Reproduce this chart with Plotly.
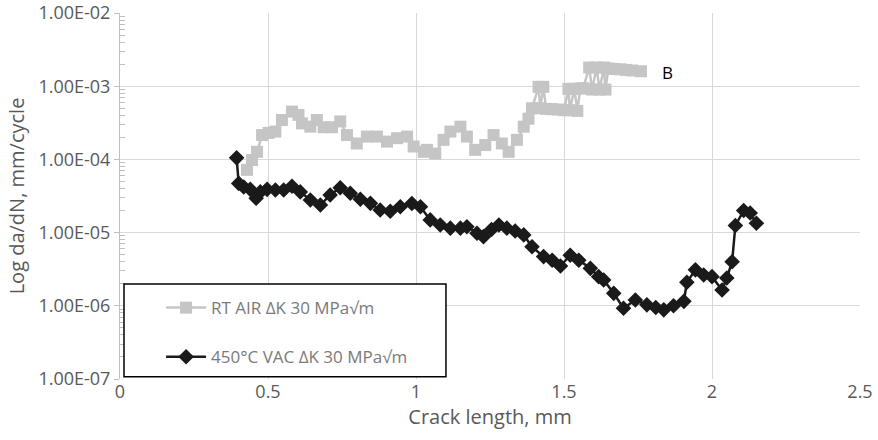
import plotly.graph_objects as go

# RT AIR series (crack length mm, da/dN mm/cycle)
air_x = [0.429, 0.446, 0.463, 0.48, 0.502, 0.525, 0.547, 0.581, 0.603, 0.615, 0.643, 0.665,
         0.688, 0.716, 0.744, 0.767, 0.80, 0.834, 0.868, 0.902, 0.936, 0.970, 0.992, 1.026,
         1.037, 1.065, 1.093, 1.116, 1.15, 1.172, 1.20, 1.234, 1.262, 1.29, 1.313, 1.341,
         1.364, 1.38, 1.392, 1.414, 1.42, 1.43, 1.44, 1.46, 1.48, 1.50, 1.515, 1.52, 1.535,
         1.545, 1.555, 1.565, 1.585, 1.595, 1.61, 1.62, 1.635, 1.64, 1.65, 1.67, 1.69, 1.71,
         1.73, 1.76]
air_y = [7.2e-5, 9.8e-5, 1.27e-4, 2.15e-4, 2.3e-4, 2.4e-4, 3.45e-4, 4.5e-4, 4.05e-4, 3.1e-4,
         2.8e-4, 3.45e-4, 2.75e-4, 2.75e-4, 3.3e-4, 2.15e-4, 1.65e-4, 2.05e-4, 2.05e-4, 1.75e-4,
         1.95e-4, 2.05e-4, 1.5e-4, 1.27e-4, 1.35e-4, 1.2e-4, 1.85e-4, 2.4e-4, 2.8e-4, 2.05e-4,
         1.35e-4, 1.57e-4, 2.15e-4, 1.65e-4, 1.27e-4, 1.85e-4, 2.8e-4, 3.6e-4, 5.0e-4, 9.8e-4,
         5.0e-4, 9.8e-4, 4.9e-4, 4.85e-4, 4.8e-4, 4.7e-4, 9.2e-4, 4.7e-4, 9.2e-4, 4.6e-4,
         9.3e-4, 9.4e-4, 1.8e-3, 9.0e-4, 1.8e-3, 9.0e-4, 1.8e-3, 9.0e-4, 1.75e-3, 1.72e-3,
         1.7e-3, 1.67e-3, 1.64e-3, 1.6e-3]

# 450 C VAC series
vac_x = [0.394, 0.401, 0.418, 0.44, 0.46, 0.474, 0.497, 0.525, 0.553, 0.581, 0.609, 0.643,
         0.677, 0.71, 0.744, 0.778, 0.812, 0.846, 0.879, 0.913, 0.947, 0.986, 1.015, 1.048,
         1.082, 1.116, 1.15, 1.172, 1.206, 1.228, 1.255, 1.28, 1.307, 1.335, 1.364, 1.392,
         1.431, 1.46, 1.488, 1.521, 1.55, 1.589, 1.617, 1.634, 1.668, 1.701, 1.741, 1.78,
         1.81, 1.837, 1.87, 1.905, 1.915, 1.944, 1.972, 2.0, 2.034, 2.05, 2.068, 2.079, 2.107,
         2.129, 2.15]
vac_y = [1.05e-4, 4.7e-5, 4.2e-5, 3.9e-5, 2.94e-5, 3.6e-5, 3.9e-5, 3.82e-5, 3.82e-5, 4.3e-5,
         3.6e-5, 2.79e-5, 2.38e-5, 3.27e-5, 4.1e-5, 3.44e-5, 2.85e-5, 2.51e-5, 2.04e-5, 1.96e-5,
         2.26e-5, 2.5e-5, 2.26e-5, 1.49e-5, 1.27e-5, 1.15e-5, 1.15e-5, 1.2e-5, 9.8e-6, 8.8e-6,
         1.1e-5, 1.27e-5, 1.15e-5, 1.05e-5, 9.3e-6, 6.4e-6, 4.7e-6, 4.2e-6, 3.5e-6, 4.9e-6,
         4.2e-6, 3.25e-6, 2.5e-6, 2.25e-6, 1.48e-6, 9.25e-7, 1.2e-6, 1.03e-6, 9.5e-7, 8.8e-7,
         1.0e-6, 1.15e-6, 2.1e-6, 3.1e-6, 2.64e-6, 2.5e-6, 1.64e-6, 2.4e-6, 4.0e-6, 1.25e-5,
         2.0e-5, 1.85e-5, 1.34e-5]

y_tickvals = [1e-7, 1e-6, 1e-5, 1e-4, 1e-3, 1e-2]
y_ticktext = ["1.00E-07", "1.00E-06", "1.00E-05", "1.00E-04", "1.00E-03", "1.00E-02"]
x_tickvals = [0, 0.5, 1, 1.5, 2, 2.5]
x_ticktext = ["0", "0.5", "1", "1.5", "2", "2.5"]
minor_vals = [m * 10.0 ** e for e in range(-7, -2) for m in range(2, 10)]

label_air = "RT AIR ΔK 30 MPa√m"
label_vac = "450°C VAC ΔK 30 MPa√m"

FONT = "Open Sans"
TXT = "#595959"

fig = go.Figure()
fig.add_trace(go.Scatter(
    x=air_x, y=air_y, mode="lines+markers", name=label_air, legendgroup="a",
    line=dict(color="#C4C5C4", width=2.5),
    marker=dict(symbol="square", size=12, color="#C4C5C4"),
))
fig.add_trace(go.Scatter(
    x=vac_x, y=vac_y, mode="lines+markers", name=label_vac, legendgroup="b",
    line=dict(color="#1a1a1a", width=2.5),
    marker=dict(symbol="diamond", size=12, color="#1a1a1a"),
))

fig.add_annotation(x=1.85, y=-2.81, xref="x", yref="y", text="B", showarrow=False,
                   font=dict(family=FONT, size=17, color="#000000"))

fig.add_shape(type="rect", xref="paper", yref="paper", x0=0.0054, x1=0.4405, y0=0.006, y1=0.2596,
              line=dict(color="#000000", width=1.5), fillcolor="rgba(255,255,255,1)", layer="above")

fig.update_layout(
    width=878, height=440, autosize=False,
    margin=dict(l=120, r=18, t=13, b=61),
    paper_bgcolor="white", plot_bgcolor="white",
    font=dict(family=FONT, color=TXT),
    legend=dict(x=0.0555, y=0.243, xanchor="left", yanchor="top",
                bgcolor="rgba(0,0,0,0)", borderwidth=0,
                font=dict(family=FONT, size=17, color="#7a7a7a"),
                tracegroupgap=24, itemwidth=40),
    xaxis=dict(range=[0, 2.5], tickvals=x_tickvals, ticktext=x_ticktext,
               showgrid=True, gridcolor="#d9d9d9", gridwidth=1, automargin=False,
               zeroline=False, showline=False, ticks="",
               tickfont=dict(family=FONT, size=18, color=TXT),
               title=dict(text="Crack length, mm", font=dict(family=FONT, size=20, color=TXT),
                          standoff=6)),
    yaxis=dict(type="log", range=[-7, -2], tickvals=y_tickvals, ticktext=y_ticktext,
               showgrid=True, gridcolor="#d9d9d9", gridwidth=1, automargin=False,
               zeroline=False, showline=True, linecolor="#bfbfbf", linewidth=1,
               ticks="outside", ticklen=5, tickcolor="#bfbfbf",
               minor=dict(tickvals=minor_vals, ticks="inside", ticklen=5,
                          tickcolor="#bfbfbf", showgrid=False),
               tickfont=dict(family=FONT, size=18, color=TXT),
               title=dict(text="Log da/dN, mm/cycle", font=dict(family=FONT, size=20, color=TXT),
                          standoff=8)),
)

fig.write_html("out.html")
